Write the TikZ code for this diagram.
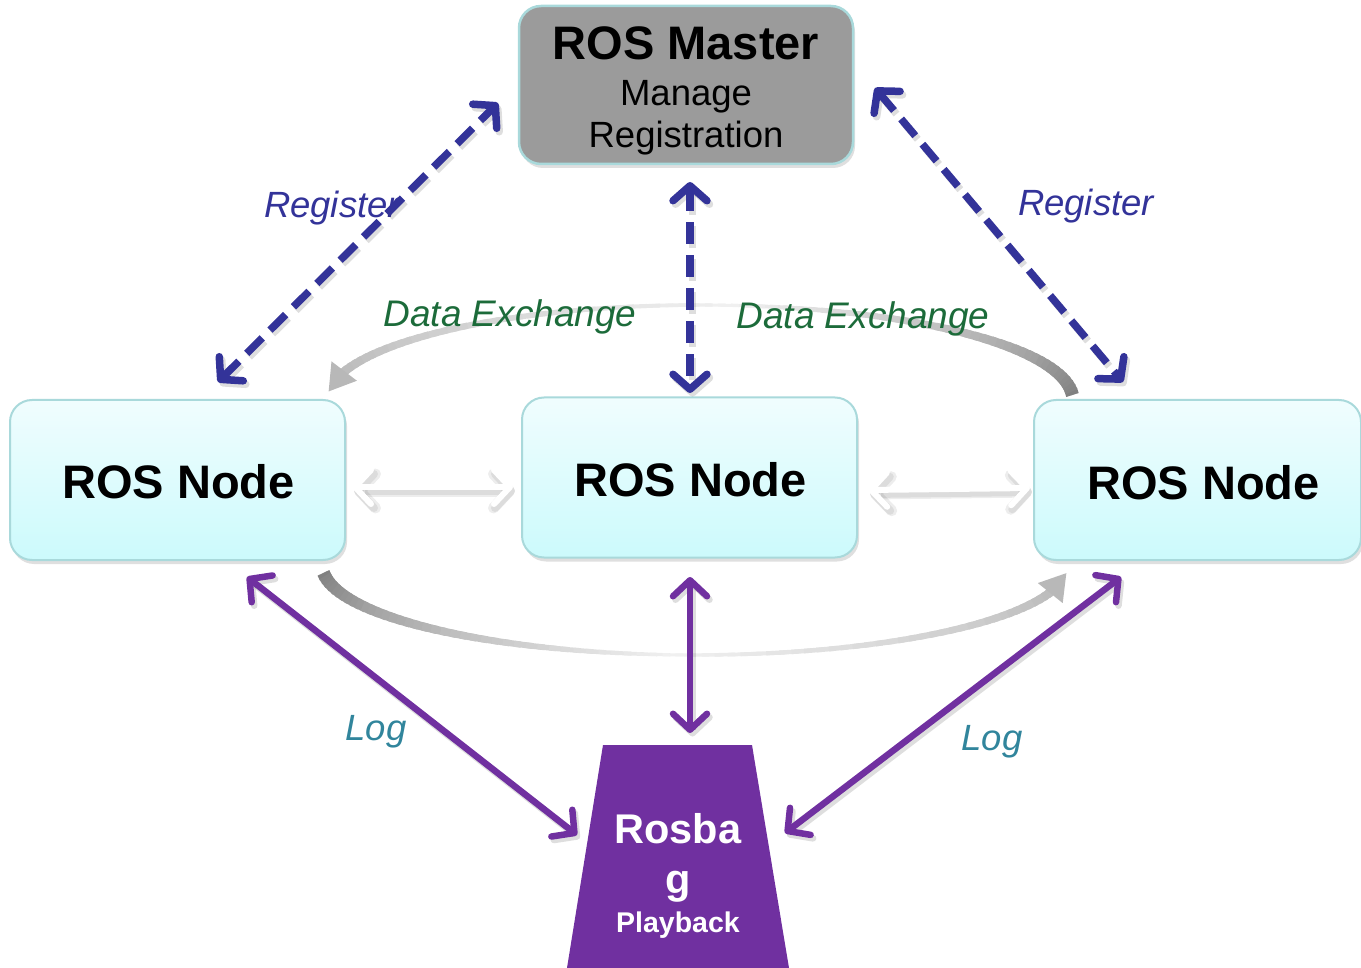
\documentclass[tikz,border=0pt]{standalone}
\usepackage{fontspec}
\setmainfont{Liberation Sans}
\usetikzlibrary{arrows.meta,shadows}
\definecolor{regblue}{HTML}{333399}
\definecolor{logpurple}{HTML}{7030A0}
\definecolor{dxgreen}{HTML}{1C6B3A}
\definecolor{logteal}{HTML}{31859C}
\definecolor{nodeborder}{HTML}{A9D9DB}
\definecolor{nodetop}{HTML}{F0FDFE}
\definecolor{nodebot}{HTML}{CCFAFC}
\definecolor{mastergray}{HTML}{9B9B9B}
\tikzset{
  boxshadow/.style={drop shadow={shadow xshift=2pt,shadow yshift=-4pt,opacity=0.25}},
  rosnode/.style={rounded corners=22pt, draw=nodeborder, line width=2pt,
    top color=nodetop, bottom color=nodebot, boxshadow,
    minimum width=335pt, minimum height=160pt, inner sep=0pt},
  masterbox/.style={rounded corners=22pt, draw=nodeborder, line width=2.5pt,
    fill=mastergray, boxshadow, minimum width=334pt, minimum height=158pt, inner sep=0pt},
  nodetext/.style={anchor=base, font=\fontsize{47}{50}\selectfont\bfseries, text=black},
  mastertitle/.style={anchor=base, font=\fontsize{47}{50}\selectfont\bfseries, text=black},
  mastersub/.style={anchor=base, font=\fontsize{36.5}{40}\selectfont, text=black},
  bagtitle/.style={anchor=base, font=\fontsize{41.5}{45}\selectfont\bfseries, text=white},
  bagsub/.style={anchor=base, font=\fontsize{28.5}{32}\selectfont\bfseries, text=white},
  reglabel/.style={anchor=base, font=\fontsize{36.5}{40}\selectfont\itshape, text=regblue},
  dxlabel/.style={anchor=base, font=\fontsize{37}{40}\selectfont\itshape, text=dxgreen},
  loglabel/.style={anchor=base, font=\fontsize{36.5}{40}\selectfont\itshape, text=logteal},
  regarrow/.style={draw=regblue, line width=7.5pt, dash pattern=on 22pt off 11pt,
    {Straight Barb[round,length=15pt,width=34pt]}-{Straight Barb[round,length=15pt,width=34pt]}},
  logarrow/.style={draw=logpurple, line width=6.5pt,
    {Straight Barb[round,length=16pt,width=34pt]}-{Straight Barb[round,length=16pt,width=34pt]}},
  arrshadow/.style={draw=black, opacity=0.13, transform canvas={xshift=2.5pt,yshift=-3.5pt}},
  wharrow/.style={draw=white, line width=6pt,
    {Straight Barb[round,length=16pt,width=34pt]}-{Straight Barb[round,length=16pt,width=34pt]}},
  whshadow/.style={draw=black, opacity=0.07,
    transform canvas={xshift=2pt,yshift=-4pt},
    {Straight Barb[round,length=16pt,width=34pt]}-{Straight Barb[round,length=16pt,width=34pt]}},
  arcgray/.style={line cap=butt}
}
\begin{document}
\begin{tikzpicture}[x=1pt,y=-1pt]
\useasboundingbox (0,0) rectangle (1361,968);

% ---- gray curved "Data Exchange" arrows (tapered, fading) ----
% top arc: thick dark tail at right, arrowhead at left
\foreach \i in {0,...,79} {
  \pgfmathsetmacro\t{\i/80}
  \pgfmathsetmacro\aA{3+162*\i/80}
  \pgfmathsetmacro\aB{3+162*(\i+1.6)/80}
  \pgfmathsetmacro\w{\t<0.5 ? 13-20*\t : 3+12*(\t-0.5)}
  \pgfmathtruncatemacro\g{\t<0.5 ? 50-88*\t : 6+44*(\t-0.5)}
  \draw[arcgray, line width=\w pt, black!\g]
    ({700+373*cos(\aA)},{400-95*sin(\aA)}) -- ({700+373*cos(\aB)},{400-95*sin(\aB)});
}
\draw[black!28, line width=9pt, -{Triangle[length=26pt,width=30pt]}]
  ({700+373*cos(163)},{400-95*sin(163)}) -- ({700+373*cos(175)},{400-95*sin(175)});
% bottom arc: thick dark tail at left, arrowhead at right
\foreach \i in {0,...,79} {
  \pgfmathsetmacro\t{\i/80}
  \pgfmathsetmacro\aA{175-160*\i/80}
  \pgfmathsetmacro\aB{175-160*(\i+1.6)/80}
  \pgfmathsetmacro\w{\t<0.5 ? 13-20*\t : 3+12*(\t-0.5)}
  \pgfmathtruncatemacro\g{\t<0.5 ? 50-88*\t : 6+44*(\t-0.5)}
  \draw[arcgray, line width=\w pt, black!\g]
    ({695+373*cos(\aA)},{565+90*sin(\aA)}) -- ({695+373*cos(\aB)},{565+90*sin(\aB)});
}
\draw[black!28, line width=9pt, -{Triangle[length=26pt,width=30pt]}]
  ({695+373*cos(17)},{565+90*sin(17)}) -- ({695+373*cos(5)},{565+90*sin(5)});

% ---- boxes ----
\node[masterbox] (master) at (686,85) {};
\node[mastertitle] (mt) at (686,60) {ROS Master};
\node[mastersub] (ms1) at (686,106) {Manage};
\node[mastersub] (ms2) at (686,148) {Registration};

\node[rosnode] (nL) at (177.5,480) {};
\node[rosnode] (nM) at (689.5,477.5) {};
\node[rosnode, minimum width=327pt] (nR) at (1197.5,480) {};
\node[nodetext] (tL) at (178.5,498) {ROS Node};
\node[nodetext] (tM) at (690.5,496) {ROS Node};
\node[nodetext] (tR) at (1203.5,499) {ROS Node};

\fill[logpurple] (603,745) -- (752,745) -- (789,968) -- (567,968) -- cycle;
\node[bagtitle] (bag1) at (678,843) {Rosba};
\node[bagtitle] (bag2) at (678,893) {g};
\node[bagsub] (bag3) at (678,932) {Playback};

% ---- labels ----
\node[reglabel] (rgL) at (332,218) {Register};
\node[reglabel] (rgR) at (1086,216) {Register};
\node[dxlabel] (dxL) at (510,327) {Data Exchange};
\node[dxlabel] (dxR) at (863,329) {Data Exchange};
\node[loglabel] (lgL) at (376,740) {Log};
\node[loglabel] (lgR) at (992,750) {Log};

% ---- connector end points ----
\coordinate (rL1) at (218,382);  \coordinate (rL2) at (498,103);
\coordinate (rM1) at (690,182);  \coordinate (rM2) at (690,393);
\coordinate (rR1) at (875,88);   \coordinate (rR2) at (1123,382);
\coordinate (gL1) at (247,577);  \coordinate (gL2) at (577,835);
\coordinate (gM1) at (690,577);  \coordinate (gM2) at (690,733);
\coordinate (gR1) at (1121,577); \coordinate (gR2) at (785,833);
\coordinate (w1a) at (352,487);  \coordinate (w1b) at (513,487);
\coordinate (w2a) at (868,490);  \coordinate (w2b) at (1030,488);

% ---- white arrows between nodes (soft shadow) ----
\draw[whshadow, line width=11pt] (w1a) -- (w1b);
\draw[whshadow, line width=8pt] (w1a) -- (w1b);
\draw[wharrow] (w1a) -- (w1b);
\draw[whshadow, line width=11pt] (w2a) -- (w2b);
\draw[whshadow, line width=8pt] (w2a) -- (w2b);
\draw[wharrow] (w2a) -- (w2b);

% ---- register arrows ----
\draw[regarrow, arrshadow] (rL1) -- (rL2);
\draw[regarrow, arrshadow] (rM1) -- (rM2);
\draw[regarrow, arrshadow] (rR1) -- (rR2);
\draw[regarrow] (rL1) -- (rL2);
\draw[regarrow] (rM1) -- (rM2);
\draw[regarrow] (rR1) -- (rR2);

% ---- log arrows ----
\draw[logarrow, arrshadow] (gL1) -- (gL2);
\draw[logarrow, arrshadow] (gM1) -- (gM2);
\draw[logarrow, arrshadow] (gR1) -- (gR2);
\draw[logarrow] (gL1) -- (gL2);
\draw[logarrow] (gM1) -- (gM2);
\draw[logarrow] (gR1) -- (gR2);
\end{tikzpicture}
\end{document}
